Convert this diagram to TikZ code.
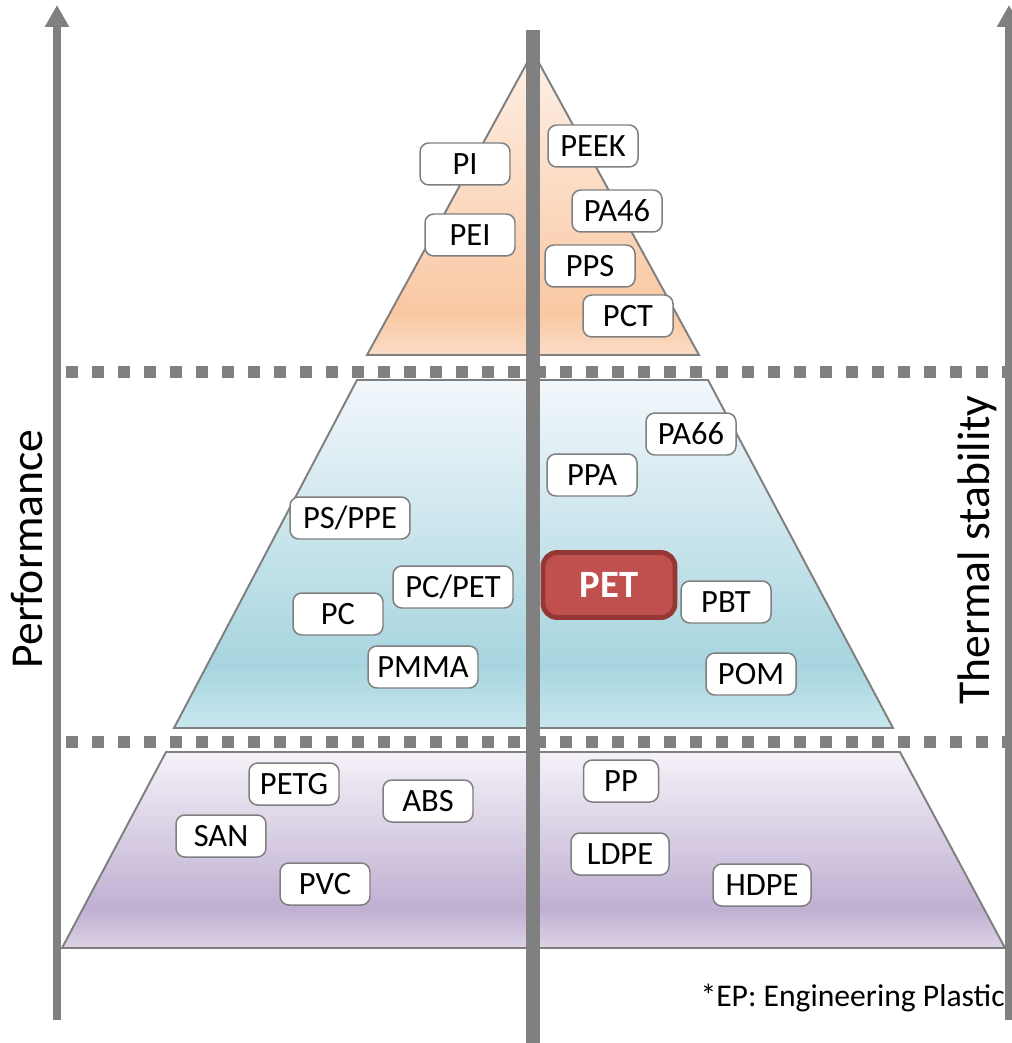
\documentclass[tikz,border=0pt]{standalone}
\usepackage{fontspec}
\setmainfont{Carlito}
\usetikzlibrary{arrows.meta}
\definecolor{axisgray}{RGB}{128,128,128}
\definecolor{boxgray}{RGB}{127,127,127}
\definecolor{petred}{RGB}{192,80,77}
\definecolor{petdark}{RGB}{149,55,53}
\definecolor{peachT}{RGB}{254,240,230}
\definecolor{peachM}{RGB}{249,200,163}
\definecolor{peachB}{RGB}{251,220,198}
\definecolor{blueT}{RGB}{242,247,251}
\definecolor{blueM}{RGB}{167,213,223}
\definecolor{blueB}{RGB}{201,231,239}
\definecolor{lilacT}{RGB}{245,241,248}
\definecolor{lilacM}{RGB}{191,176,210}
\definecolor{lilacB}{RGB}{221,211,230}
\pgfdeclareverticalshading{peachband}{100bp}{color(0bp)=(peachB); color(25bp)=(peachB); color(32bp)=(peachM); color(75bp)=(peachT); color(100bp)=(peachT)}
\pgfdeclareverticalshading{blueband}{100bp}{color(0bp)=(blueB); color(25bp)=(blueB); color(34bp)=(blueM); color(75bp)=(blueT); color(100bp)=(blueT)}
\pgfdeclareverticalshading{lilacband}{100bp}{color(0bp)=(lilacB); color(25bp)=(lilacB); color(35bp)=(lilacM); color(75bp)=(lilacT); color(100bp)=(lilacT)}
\tikzset{
  plastic/.style={rectangle, rounded corners=5pt, draw=boxgray, line width=0.85pt, fill=white,
    minimum width=1.8cm, minimum height=0.84cm, inner sep=2pt, font=\fontsize{18.5}{21}\selectfont},
  layer/.style={draw=boxgray, line width=1.1pt},
  levelline/.style={axisgray, line width=0.24cm, dash pattern=on 0.24cm off 0.28cm},
  axis/.style={axisgray, line width=0.16cm, -{Triangle[length=0.44cm, width=0.46cm]}},
  axislabel/.style={rotate=90, font=\fontsize{26}{30}\selectfont},
}
\begin{document}
\begin{tikzpicture}[x=0.02cm, y=-0.02cm]
    \useasboundingbox (0,0) rectangle (1011,1043);

    % pyramid layers
    \shade[layer, shading=peachband] (533,52) -- (699,355) -- (367,355) -- cycle;
    \shade[layer, shading=blueband] (357,380) -- (708,380) -- (893,728) -- (174,728) -- cycle;
    \shade[layer, shading=lilacband] (166,752) -- (900,752) -- (1005,948) -- (62,948) -- cycle;

    % level separators
    \coordinate (upperL) at (66,372);
    \coordinate (upperR) at (1005,372);
    \coordinate (lowerL) at (66,742);
    \coordinate (lowerR) at (1005,742);
    \draw[levelline] (upperL) -- (upperR);
    \draw[levelline] (lowerL) -- (lowerR);

    % axes
    \coordinate (perfBase) at (57,1020);
    \coordinate (perfTip) at (57,5);
    \coordinate (thermBase) at (1009,1020);
    \coordinate (thermTip) at (1009,5);
    \coordinate (barTop) at (533,30);
    \coordinate (barBot) at (533,1043);
    \draw[axis] (perfBase) -- (perfTip);
    \draw[axis] (thermBase) -- (thermTip);
    \draw[axisgray, line width=0.28cm] (barTop) -- (barBot);

    \node[axislabel] (perf) at (27,549) {Performance};
    \node[axislabel] (therm) at (977,550) {Thermal stability};

    % top level
    \node[plastic] (pi) at (465,164) {PI};
    \node[plastic] (pei) at (470,235) {PEI};
    \node[plastic] (peek) at (593,146) {PEEK};
    \node[plastic] (pa46) at (617,211) {PA46};
    \node[plastic] (pps) at (590,266) {PPS};
    \node[plastic] (pct) at (628,316) {PCT};

    % middle level
    \node[plastic] (pa66) at (691,434) {PA66};
    \node[plastic] (ppa) at (592,475) {PPA};
    \node[plastic, minimum width=2.4cm] (psppe) at (350,518) {PS/PPE};
    \node[plastic, minimum width=2.4cm] (pcpet) at (453,587) {PC/PET};
    \node[plastic] (pc) at (338,614) {PC};
    \node[plastic, minimum width=2.2cm] (pmma) at (423,667) {PMMA};
    \node[rectangle, rounded corners=8pt, draw=petdark, line width=2.8pt, fill=petred,
      minimum width=2.64cm, minimum height=1.3cm, text=white,
      font=\fontsize{22}{26}\selectfont\bfseries] (pet) at (609,585) {PET};
    \node[plastic] (pbt) at (726,602) {PBT};
    \node[plastic] (pom) at (751,674) {POM};

    % bottom level
    \node[plastic] (petg) at (294,784) {PETG};
    \node[plastic] (abs) at (428,801) {ABS};
    \node[plastic] (san) at (221,836) {SAN};
    \node[plastic] (pvc) at (325,884) {PVC};
    \node[plastic, minimum width=1.5cm] (pp) at (621,781) {PP};
    \node[plastic, minimum width=1.96cm] (ldpe) at (620,854) {LDPE};
    \node[plastic, minimum width=1.96cm] (hdpe) at (762,885) {HDPE};

    \node[anchor=east, inner sep=0pt, font=\fontsize{18}{22}\selectfont] (note) at (1005,998) {*EP: Engineering Plastic};
\end{tikzpicture}
\end{document}
